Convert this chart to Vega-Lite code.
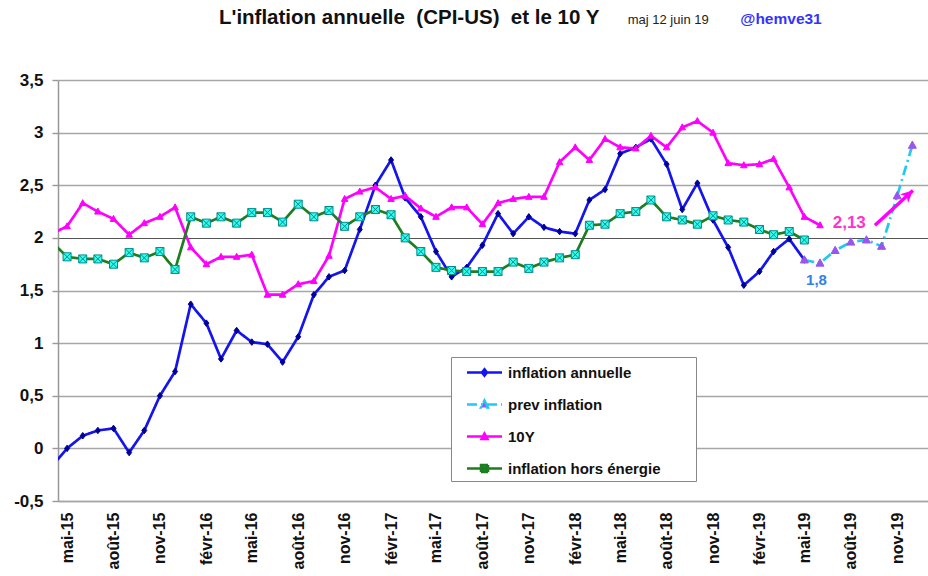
{
  "$schema": "https://vega.github.io/schema/vega-lite/v6.json",
  "width": 870,
  "height": 421,
  "autosize": {"type": "none"},
  "padding": {"left": 58, "top": 80, "right": 0, "bottom": 75},
  "background": "white",
  "config": {"view": {"stroke": null}, "font": "Liberation Sans"},
  "datasets": {
    "series": [
      {"date": "2015-04-01", "inflation annuelle": -0.17, "10Y": 2.04, "inflation hors énergie": 1.96},
      {"date": "2015-05-01", "inflation annuelle": 0.00, "10Y": 2.11, "inflation hors énergie": 1.82},
      {"date": "2015-06-01", "inflation annuelle": 0.12, "10Y": 2.33, "inflation hors énergie": 1.80},
      {"date": "2015-07-01", "inflation annuelle": 0.17, "10Y": 2.25, "inflation hors énergie": 1.80},
      {"date": "2015-08-01", "inflation annuelle": 0.19, "10Y": 2.18, "inflation hors énergie": 1.75},
      {"date": "2015-09-01", "inflation annuelle": -0.04, "10Y": 2.03, "inflation hors énergie": 1.86},
      {"date": "2015-10-01", "inflation annuelle": 0.17, "10Y": 2.14, "inflation hors énergie": 1.81},
      {"date": "2015-11-01", "inflation annuelle": 0.50, "10Y": 2.20, "inflation hors énergie": 1.87},
      {"date": "2015-12-01", "inflation annuelle": 0.73, "10Y": 2.29, "inflation hors énergie": 1.70},
      {"date": "2016-01-01", "inflation annuelle": 1.37, "10Y": 1.91, "inflation hors énergie": 2.20},
      {"date": "2016-02-01", "inflation annuelle": 1.19, "10Y": 1.75, "inflation hors énergie": 2.14},
      {"date": "2016-03-01", "inflation annuelle": 0.85, "10Y": 1.82, "inflation hors énergie": 2.20},
      {"date": "2016-04-01", "inflation annuelle": 1.12, "10Y": 1.82, "inflation hors énergie": 2.14},
      {"date": "2016-05-01", "inflation annuelle": 1.01, "10Y": 1.84, "inflation hors énergie": 2.24},
      {"date": "2016-06-01", "inflation annuelle": 0.99, "10Y": 1.46, "inflation hors énergie": 2.24},
      {"date": "2016-07-01", "inflation annuelle": 0.82, "10Y": 1.46, "inflation hors énergie": 2.15},
      {"date": "2016-08-01", "inflation annuelle": 1.06, "10Y": 1.56, "inflation hors énergie": 2.32},
      {"date": "2016-09-01", "inflation annuelle": 1.46, "10Y": 1.59, "inflation hors énergie": 2.20},
      {"date": "2016-10-01", "inflation annuelle": 1.63, "10Y": 1.83, "inflation hors énergie": 2.26},
      {"date": "2016-11-01", "inflation annuelle": 1.69, "10Y": 2.37, "inflation hors énergie": 2.11},
      {"date": "2016-12-01", "inflation annuelle": 2.08, "10Y": 2.44, "inflation hors énergie": 2.20},
      {"date": "2017-01-01", "inflation annuelle": 2.50, "10Y": 2.48, "inflation hors énergie": 2.27},
      {"date": "2017-02-01", "inflation annuelle": 2.74, "10Y": 2.37, "inflation hors énergie": 2.22},
      {"date": "2017-03-01", "inflation annuelle": 2.38, "10Y": 2.40, "inflation hors énergie": 2.00},
      {"date": "2017-04-01", "inflation annuelle": 2.20, "10Y": 2.28, "inflation hors énergie": 1.87},
      {"date": "2017-05-01", "inflation annuelle": 1.87, "10Y": 2.20, "inflation hors énergie": 1.72},
      {"date": "2017-06-01", "inflation annuelle": 1.63, "10Y": 2.29, "inflation hors énergie": 1.69},
      {"date": "2017-07-01", "inflation annuelle": 1.72, "10Y": 2.29, "inflation hors énergie": 1.68},
      {"date": "2017-08-01", "inflation annuelle": 1.93, "10Y": 2.13, "inflation hors énergie": 1.68},
      {"date": "2017-09-01", "inflation annuelle": 2.23, "10Y": 2.33, "inflation hors énergie": 1.68},
      {"date": "2017-10-01", "inflation annuelle": 2.04, "10Y": 2.37, "inflation hors énergie": 1.77},
      {"date": "2017-11-01", "inflation annuelle": 2.20, "10Y": 2.39, "inflation hors énergie": 1.71},
      {"date": "2017-12-01", "inflation annuelle": 2.10, "10Y": 2.39, "inflation hors énergie": 1.77},
      {"date": "2018-01-01", "inflation annuelle": 2.06, "10Y": 2.72, "inflation hors énergie": 1.81},
      {"date": "2018-02-01", "inflation annuelle": 2.04, "10Y": 2.86, "inflation hors énergie": 1.84},
      {"date": "2018-03-01", "inflation annuelle": 2.36, "10Y": 2.74, "inflation hors énergie": 2.12},
      {"date": "2018-04-01", "inflation annuelle": 2.46, "10Y": 2.94, "inflation hors énergie": 2.13},
      {"date": "2018-05-01", "inflation annuelle": 2.80, "10Y": 2.86, "inflation hors énergie": 2.23},
      {"date": "2018-06-01", "inflation annuelle": 2.86, "10Y": 2.85, "inflation hors énergie": 2.25},
      {"date": "2018-07-01", "inflation annuelle": 2.94, "10Y": 2.97, "inflation hors énergie": 2.36},
      {"date": "2018-08-01", "inflation annuelle": 2.70, "10Y": 2.86, "inflation hors énergie": 2.20},
      {"date": "2018-09-01", "inflation annuelle": 2.27, "10Y": 3.05, "inflation hors énergie": 2.17},
      {"date": "2018-10-01", "inflation annuelle": 2.52, "10Y": 3.11, "inflation hors énergie": 2.13},
      {"date": "2018-11-01", "inflation annuelle": 2.17, "10Y": 3.00, "inflation hors énergie": 2.21},
      {"date": "2018-12-01", "inflation annuelle": 1.91, "10Y": 2.71, "inflation hors énergie": 2.17},
      {"date": "2019-01-01", "inflation annuelle": 1.55, "10Y": 2.69, "inflation hors énergie": 2.15},
      {"date": "2019-02-01", "inflation annuelle": 1.68, "10Y": 2.70, "inflation hors énergie": 2.08},
      {"date": "2019-03-01", "inflation annuelle": 1.87, "10Y": 2.75, "inflation hors énergie": 2.03},
      {"date": "2019-04-01", "inflation annuelle": 1.99, "10Y": 2.48, "inflation hors énergie": 2.06},
      {"date": "2019-05-01", "inflation annuelle": 1.79, "prev inflation": 1.79, "10Y": 2.20, "inflation hors énergie": 1.98},
      {"date": "2019-06-01", "prev inflation": 1.76, "10Y": 2.12},
      {"date": "2019-07-01", "prev inflation": 1.88},
      {"date": "2019-08-01", "prev inflation": 1.96},
      {"date": "2019-09-01", "prev inflation": 1.98},
      {"date": "2019-10-01", "prev inflation": 1.92},
      {"date": "2019-11-01", "prev inflation": 2.40},
      {"date": "2019-12-01", "prev inflation": 2.88}
    ]
  },
  "layer": [
    {
      "data": {"name": "series"},
      "transform": [{"fold": ["inflation annuelle", "prev inflation", "10Y", "inflation hors énergie"], "as": ["serie", "valeur"]}],
      "mark": {"type": "line", "strokeWidth": 2.7, "clip": true},
      "encoding": {
        "x": {
          "field": "date", "type": "temporal",
          "scale": {"type": "utc", "domain": [{"year": 2015, "month": 4, "date": 13, "utc": true}, {"year": 2020, "month": 1, "date": 1, "utc": true}]},
          "axis": {
            "title": null, "grid": false, "ticks": false,
            "values": [
              {"year": 2015, "month": 5, "date": 1, "utc": true}, {"year": 2015, "month": 8, "date": 1, "utc": true}, {"year": 2015, "month": 11, "date": 1, "utc": true},
              {"year": 2016, "month": 2, "date": 1, "utc": true}, {"year": 2016, "month": 5, "date": 1, "utc": true}, {"year": 2016, "month": 8, "date": 1, "utc": true}, {"year": 2016, "month": 11, "date": 1, "utc": true},
              {"year": 2017, "month": 2, "date": 1, "utc": true}, {"year": 2017, "month": 5, "date": 1, "utc": true}, {"year": 2017, "month": 8, "date": 1, "utc": true}, {"year": 2017, "month": 11, "date": 1, "utc": true},
              {"year": 2018, "month": 2, "date": 1, "utc": true}, {"year": 2018, "month": 5, "date": 1, "utc": true}, {"year": 2018, "month": 8, "date": 1, "utc": true}, {"year": 2018, "month": 11, "date": 1, "utc": true},
              {"year": 2019, "month": 2, "date": 1, "utc": true}, {"year": 2019, "month": 5, "date": 1, "utc": true}, {"year": 2019, "month": 8, "date": 1, "utc": true}, {"year": 2019, "month": 11, "date": 1, "utc": true}
            ],
            "labelExpr": "['janv','févr','mars','avr','mai','juin','juil','août','sept','oct','nov','déc'][utcmonth(datum.value)] + '-' + utcFormat(datum.value, '%y')",
            "labelAngle": 270, "labelFontSize": 16, "labelFontWeight": "bold", "labelColor": "#111111", "labelPadding": 11,
            "labelOverlap": false, "labelBound": false, "labelFlush": false,
            "domainColor": "#a6a6a6", "domainWidth": 1.6
          }
        },
        "y": {
          "field": "valeur", "type": "quantitative",
          "scale": {"domain": [-0.5, 3.5], "nice": false, "zero": false},
          "axis": {
            "title": null,
            "values": [-0.5, 0, 0.5, 1, 1.5, 2, 2.5, 3, 3.5],
            "labelExpr": "replace(datum.value + '', '.', ',')",
            "labelFontSize": 17, "labelFontWeight": "bold", "labelColor": "#111111", "labelPadding": 9,
            "tickSize": 6, "tickColor": "#999999", "tickWidth": 1.4,
            "domainColor": "#999999", "domainWidth": 1.5,
            "grid": true,
            "gridColor": {"condition": {"test": "datum.value === 2", "value": "#555555"}, "value": "#a6a6a6"},
            "gridWidth": {"condition": {"test": "datum.value === 2", "value": 1}, "value": 1.6}
          }
        },
        "color": {
          "field": "serie", "type": "nominal",
          "scale": {"domain": ["inflation annuelle", "prev inflation", "10Y", "inflation hors énergie"], "range": ["#1414ee", "#22c8f0", "#ff00ff", "#1e7d1e"]},
          "legend": {
            "title": ".", "titleOrient": "right", "titlePadding": 26, "titleOpacity": 0, "titleFontSize": 15,
            "orient": "none", "legendX": 393, "legendY": 277,
            "fillColor": "white", "strokeColor": "#888888", "padding": 4,
            "labelFontSize": 15, "labelFontWeight": "bold", "labelColor": "#111111", "labelLimit": 300,
            "symbolType": "stroke",
            "symbolSize": 400, "symbolStrokeWidth": 2.5, "symbolOffset": 18, "labelOffset": 12, "rowPadding": 12,
            "encode": {
              "symbols": {
                "update": {
                  "shape": {"signal": "datum.value === 'inflation annuelle' ? 'M-1.75,0H1.75M0,-0.32L0.25,0L0,0.32L-0.25,0Z' : datum.value === 'prev inflation' ? 'M-1.75,0H1.75M0,-0.4L0.35,0.3L-0.35,0.3Z' : datum.value === '10Y' ? 'M-1.75,0H1.75M0,-0.3L0.3,0.25L-0.3,0.25Z' : 'M-1.75,0H1.75M-0.35,-0.35H0.35V0.35H-0.35ZM-0.35,-0.35L0.35,0.35M0.35,-0.35L-0.35,0.35'"},
                  "fill": {"signal": "datum.value === 'inflation annuelle' ? '#000099' : datum.value === 'prev inflation' ? '#9955ee' : datum.value === '10Y' ? '#ff00ff' : '#33ffee'"},
                  "fillOpacity": {"value": 1}
                }
              }
            }
          }
        },
        "strokeDash": {
          "field": "serie", "type": "nominal",
          "scale": {"domain": ["inflation annuelle", "prev inflation", "10Y", "inflation hors énergie"], "range": [[1, 0], [10, 4, 2, 4], [1, 0], [1, 0]]}
        }
      }
    },
    {
      "data": {"name": "series"},
      "transform": [{"fold": ["inflation annuelle"], "as": ["serie", "valeur"]}, {"filter": "isValid(datum.valeur)"}],
      "mark": {"type": "point", "filled": true, "size": 100, "strokeWidth": 1, "opacity": 1, "clip": true, "shape": "M0,-0.65L0.5,0L0,0.65L-0.5,0Z", "fill": "#000099", "stroke": "#000099"},
      "encoding": {
        "x": {"field": "date", "type": "temporal"},
        "y": {"field": "valeur", "type": "quantitative"}
      }
    },
    {
      "data": {"name": "series"},
      "transform": [{"fold": ["prev inflation"], "as": ["serie", "valeur"]}, {"filter": "isValid(datum.valeur)"}],
      "mark": {"type": "point", "filled": true, "size": 100, "strokeWidth": 1, "opacity": 1, "clip": true, "shape": "M0,-0.85L0.8,0.6L-0.8,0.6Z", "fill": "#9955ee", "stroke": "#9955ee"},
      "encoding": {
        "x": {"field": "date", "type": "temporal"},
        "y": {"field": "valeur", "type": "quantitative"}
      }
    },
    {
      "data": {"name": "series"},
      "transform": [{"fold": ["10Y"], "as": ["serie", "valeur"]}, {"filter": "isValid(datum.valeur)"}],
      "mark": {"type": "point", "filled": true, "size": 100, "strokeWidth": 1, "opacity": 1, "clip": true, "shape": "M0,-0.7L0.65,0.5L-0.65,0.5Z", "fill": "#ff00ff", "stroke": "#ff00ff"},
      "encoding": {
        "x": {"field": "date", "type": "temporal"},
        "y": {"field": "valeur", "type": "quantitative"}
      }
    },
    {
      "data": {"name": "series"},
      "transform": [{"fold": ["inflation hors énergie"], "as": ["serie", "valeur"]}, {"filter": "isValid(datum.valeur)"}],
      "mark": {"type": "point", "filled": true, "size": 100, "strokeWidth": 1, "opacity": 1, "clip": true, "shape": "M-0.8,-0.8H0.8V0.8H-0.8ZM-0.8,-0.8L0.8,0.8M0.8,-0.8L-0.8,0.8", "fill": "#33ffee", "stroke": "#008b8b"},
      "encoding": {
        "x": {"field": "date", "type": "temporal"},
        "y": {"field": "valeur", "type": "quantitative"}
      }
    },
    {
      "data": {"values": [{"start": "2019-09-18", "end": "2019-12-02", "from": 2.12, "to": 2.45}]},
      "mark": {"type": "rule", "color": "#ff00ff", "strokeWidth": 3.5},
      "encoding": {
        "x": {"field": "start", "type": "temporal"},
        "x2": {"field": "end"},
        "y": {"field": "from", "type": "quantitative"},
        "y2": {"field": "to"}
      }
    },
    {
      "data": {"values": [{"end": "2019-12-02", "to": 2.45}]},
      "mark": {"type": "point", "filled": true, "opacity": 1, "color": "#ff00ff", "size": 144, "angle": 317.4, "shape": "M0,0L-2,-1L-1.4,0L-2,1Z"},
      "encoding": {
        "x": {"field": "end", "type": "temporal"},
        "y": {"field": "to", "type": "quantitative"}
      }
    },
    {
      "data": {"values": [{"date": "2019-07-29", "v": 2.14, "t": "2,13"}]},
      "mark": {"type": "text", "fontSize": 17, "fontWeight": "bold", "color": "#ff33cc", "align": "center", "baseline": "middle"},
      "encoding": {
        "x": {"field": "date", "type": "temporal"},
        "y": {"field": "v", "type": "quantitative"},
        "text": {"field": "t"}
      }
    },
    {
      "data": {"values": [{"date": "2019-05-25", "v": 1.6, "t": "1,8"}]},
      "mark": {"type": "text", "fontSize": 15, "fontWeight": "bold", "color": "#3380e6", "align": "center", "baseline": "middle"},
      "encoding": {
        "x": {"field": "date", "type": "temporal"},
        "y": {"field": "v", "type": "quantitative"},
        "text": {"field": "t"}
      }
    },
    {
      "data": {"values": [{"date": "2016-02-26", "v": 4.03, "t": "L'inflation annuelle \u00a0(CPI-US) \u00a0et le 10 Y"}]},
      "mark": {"type": "text", "fontSize": 20.5, "fontWeight": "bold", "color": "#111111", "align": "left", "baseline": "alphabetic"},
      "encoding": {
        "x": {"field": "date", "type": "temporal"},
        "y": {"field": "v", "type": "quantitative"},
        "text": {"field": "t"}
      }
    },
    {
      "data": {"values": [{"date": "2018-05-16", "v": 4.03, "t": "maj 12 juin 19"}]},
      "mark": {"type": "text", "fontSize": 13, "color": "#222222", "align": "left", "baseline": "alphabetic"},
      "encoding": {
        "x": {"field": "date", "type": "temporal"},
        "y": {"field": "v", "type": "quantitative"},
        "text": {"field": "t"}
      }
    },
    {
      "data": {"values": [{"date": "2018-12-25", "v": 4.03, "t": "@hemve31"}]},
      "mark": {"type": "text", "fontSize": 15.5, "fontWeight": "bold", "color": "#3333ff", "align": "left", "baseline": "alphabetic"},
      "encoding": {
        "x": {"field": "date", "type": "temporal"},
        "y": {"field": "v", "type": "quantitative"},
        "text": {"field": "t"}
      }
    }
  ]
}
